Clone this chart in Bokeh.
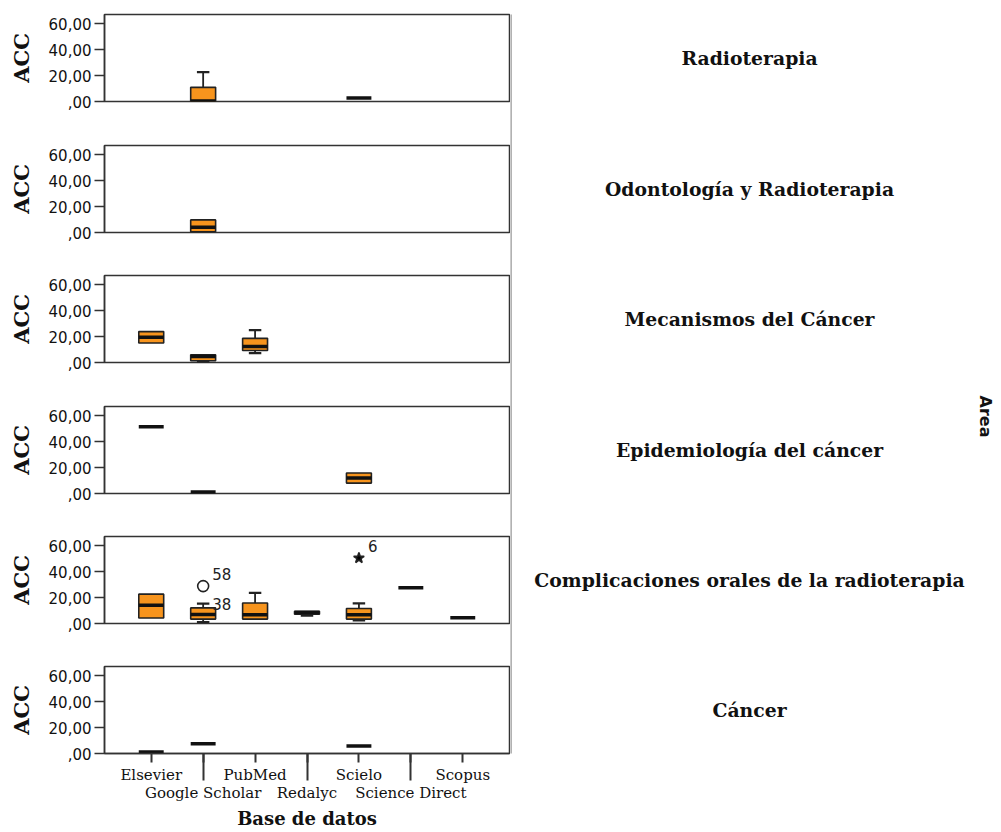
from bokeh.plotting import figure
from bokeh.layouts import column, row
from bokeh.models import Range1d, FixedTicker, ColumnDataSource
from bokeh.embed import file_html
from bokeh.resources import INLINE
from bokeh.core.properties import value
import math

databases = ["Elsevier", "Google Scholar", "PubMed", "Redalyc", "Scielo", "Science Direct", "Scopus"]
areas = ["Radioterapia", "Odontología y Radioterapia", "Mecanismos del Cáncer",
         "Epidemiología del cáncer", "Complicaciones orales de la radioterapia", "Cáncer"]

# (database, whisker_low, q1, median, q3, whisker_high)
radioterapia = [("Google Scholar", 0.0, 0.0, 0.4, 10.9, 22.6),
                ("Scielo", 2.6, 2.6, 2.6, 2.6, 2.6)]
odontologia_radioterapia = [("Google Scholar", 0.6, 0.6, 4.0, 9.7, 9.7)]
mecanismos_cancer = [("Elsevier", 15.0, 15.0, 19.5, 23.8, 23.8),
                     ("Google Scholar", 0.4, 1.3, 4.6, 6.0, 6.0),
                     ("PubMed", 7.2, 9.2, 12.3, 18.6, 25.0)]
epidemiologia_cancer = [("Elsevier", 51.4, 51.4, 51.4, 51.4, 51.4),
                        ("Google Scholar", 1.2, 1.2, 1.2, 1.2, 1.2),
                        ("Scielo", 8.0, 8.0, 11.9, 15.8, 15.8)]
complicaciones_orales = [("Elsevier", 4.2, 4.2, 14.0, 22.6, 22.6),
                         ("Google Scholar", 1.0, 3.4, 7.0, 12.0, 15.3),
                         ("PubMed", 3.4, 3.4, 6.8, 15.8, 23.6),
                         ("Redalyc", 6.0, 7.2, 8.4, 9.4, 9.4),
                         ("Scielo", 2.3, 3.4, 6.8, 11.5, 15.5),
                         ("Science Direct", 27.5, 27.5, 27.5, 27.5, 27.5),
                         ("Scopus", 4.4, 4.4, 4.4, 4.4, 4.4)]
cancer = [("Elsevier", 1.2, 1.2, 1.2, 1.2, 1.2),
          ("Google Scholar", 7.6, 7.6, 7.6, 7.6, 7.6),
          ("Scielo", 5.7, 5.7, 5.7, 5.7, 5.7)]

# outliers: (database, value, case label, marker)
complicaciones_outliers = [("Google Scholar", 28.8, "58", "circle"),
                           ("Scielo", 50.4, "6", "star")]
# case labels whose point lies inside the box: (database, value, case label)
complicaciones_case_labels = [("Google Scholar", 5.5, "38")]

panel_stats = [radioterapia, odontologia_radioterapia, mecanismos_cancer,
               epidemiologia_cancer, complicaciones_orales, cancer]
panel_outliers = [[], [], [], [], complicaciones_outliers, []]
panel_case_labels = [[], [], [], [], complicaciones_case_labels, []]

y_ticks = [0, 20, 40, 60]
y_tick_labels = [",00", "20,00", "40,00", "60,00"]

ORANGE = "#F7941D"
EDGE = "#222222"
BOX_W = 0.48
CAP_W = 0.24

tops = [14, 145, 275, 406, 536, 666]
FRAME_H = 87
TOTAL_H = 832
LEFT_W = 510
RIGHT_W = 1001 - LEFT_W
starts = [t - 14 for t in tops] + [TOTAL_H]

figs = []
for k, (stats, outs, cases) in enumerate(zip(panel_stats, panel_outliers, panel_case_labels)):
    last = (k == len(panel_stats) - 1)
    h = starts[k + 1] - starts[k]
    mbt = tops[k] - starts[k]
    mbb = h - mbt - FRAME_H
    p = figure(width=LEFT_W, height=h, output_backend="svg", toolbar_location=None,
               title=None, x_range=Range1d(-0.9, 6.9), y_range=Range1d(0, 67),
               x_axis_type="linear" if last else None,
               min_border_left=104, min_border_right=1,
               min_border_top=mbt, min_border_bottom=mbb)
    p.grid.visible = False
    p.outline_line_color = "#333333"
    p.outline_line_width = 1.5
    p.outline_line_alpha = 1.0
    p.background_fill_color = "white"
    p.border_fill_color = "white"

    ya = p.yaxis[0]
    ya.ticker = FixedTicker(ticks=y_ticks)
    ya.major_label_overrides = {t: l for t, l in zip(y_ticks, y_tick_labels)}
    ya.major_tick_out = 10
    ya.major_tick_in = 0
    ya.major_tick_line_width = 1.5
    ya.major_tick_line_color = "#333333"
    ya.axis_line_color = "#333333"
    ya.axis_line_width = 1.5
    ya.major_label_text_font = "DejaVu Sans"
    ya.major_label_text_font_size = "15px"
    ya.major_label_text_color = "#111111"
    ya.major_label_standoff = 3
    ya.axis_label = "ACC"
    ya.axis_label_text_font = "DejaVu Serif"
    ya.axis_label_text_font_style = "bold"
    ya.axis_label_text_font_size = "21px"
    ya.axis_label_text_color = "#111111"
    ya.axis_label_standoff = 12

    if last:
        xa = p.xaxis[0]
        xa.ticker = FixedTicker(ticks=list(range(len(databases))), minor_ticks=[1, 3, 5])
        xa.major_label_overrides = {i: ("\n" + n if i % 2 else n) for i, n in enumerate(databases)}
        xa.major_tick_out = 9
        xa.major_tick_in = 0
        xa.minor_tick_out = 27
        xa.minor_tick_in = 0
        xa.major_tick_line_width = 2
        xa.minor_tick_line_width = 2
        xa.major_tick_line_color = "#333333"
        xa.minor_tick_line_color = "#333333"
        xa.axis_line_color = "#333333"
        xa.axis_line_width = 1.5
        xa.major_label_text_font = "DejaVu Serif"
        xa.major_label_text_font_size = "15px"
        xa.major_label_text_line_height = 1.0
        xa.major_label_text_color = "#111111"
        xa.major_label_standoff = -15
        xa.axis_label = "Base de datos"
        xa.axis_label_text_font = "DejaVu Serif"
        xa.axis_label_text_font_style = "bold"
        xa.axis_label_text_font_size = "18px"
        xa.axis_label_text_color = "#111111"
        xa.axis_label_standoff = 3

    xs = [databases.index(s[0]) for s in stats]
    lo = [s[1] for s in stats]
    q1 = [s[2] for s in stats]
    med = [s[3] for s in stats]
    q3 = [s[4] for s in stats]
    hi = [s[5] for s in stats]

    box_idx = [i for i in range(len(stats)) if q3[i] > q1[i]]
    src = ColumnDataSource(dict(
        x=[xs[i] for i in box_idx], lo=[lo[i] for i in box_idx], q1=[q1[i] for i in box_idx],
        q3=[q3[i] for i in box_idx], hi=[hi[i] for i in box_idx]))
    # whiskers
    p.segment(x0="x", y0="q3", x1="x", y1="hi", source=src, line_color=EDGE, line_width=1.8)
    p.segment(x0="x", y0="lo", x1="x", y1="q1", source=src, line_color=EDGE, line_width=1.8)
    wsrc_hi = ColumnDataSource(dict(
        cl=[xs[i] - CAP_W / 2 for i in box_idx if hi[i] > q3[i]],
        cr=[xs[i] + CAP_W / 2 for i in box_idx if hi[i] > q3[i]],
        y=[hi[i] for i in box_idx if hi[i] > q3[i]]))
    wsrc_lo = ColumnDataSource(dict(
        cl=[xs[i] - CAP_W / 2 for i in box_idx if lo[i] < q1[i]],
        cr=[xs[i] + CAP_W / 2 for i in box_idx if lo[i] < q1[i]],
        y=[lo[i] for i in box_idx if lo[i] < q1[i]]))
    p.segment(x0="cl", y0="y", x1="cr", y1="y", source=wsrc_hi, line_color=EDGE, line_width=2.2)
    p.segment(x0="cl", y0="y", x1="cr", y1="y", source=wsrc_lo, line_color=EDGE, line_width=2.2)
    # boxes
    p.vbar(x="x", width=BOX_W, bottom="q1", top="q3", source=src,
           fill_color=ORANGE, line_color=EDGE, line_width=1.6)
    # medians (and single-value groups)
    msrc = ColumnDataSource(dict(l=[x - BOX_W / 2 for x in xs], r=[x + BOX_W / 2 for x in xs], y=med))
    p.segment(x0="l", y0="y", x1="r", y1="y", source=msrc, line_color="#111111", line_width=3.5)

    # outlier markers and case labels
    if outs:
        osrc = ColumnDataSource(dict(x=[databases.index(o[0]) for o in outs],
                                     y=[o[1] for o in outs],
                                     mk=[o[3] for o in outs],
                                     fc=["white" if o[3] == "circle" else "black" for o in outs]))
        p.scatter("x", "y", source=osrc, marker="mk", size=11,
                  fill_color="fc", line_color="#222222", line_width=1.6)
    labs = [(o[0], o[1], o[2]) for o in outs] + list(cases)
    if labs:
        tsrc = ColumnDataSource(dict(x=[databases.index(c[0]) for c in labs],
                                     y=[c[1] for c in labs],
                                     lab=[c[2] for c in labs]))
        p.text("x", "y", text="lab", source=tsrc, x_offset=9, y_offset=-6,
               text_font=value("DejaVu Sans"), text_font_size="15px",
               text_color="#222222", text_baseline="bottom", text_align="left")
    figs.append(p)

# right side: area labels
rp = figure(width=RIGHT_W, height=TOTAL_H, output_backend="svg", toolbar_location=None,
            title=None, x_range=Range1d(0, RIGHT_W), y_range=Range1d(0, TOTAL_H),
            x_axis_type=None, y_axis_type=None,
            min_border_left=0, min_border_right=0, min_border_top=0, min_border_bottom=0)
rp.grid.visible = False
rp.outline_line_color = None
rp.background_fill_color = "white"
rp.border_fill_color = "white"
# connecting frame line between panels
rp.segment(x0=[0], y0=[TOTAL_H - tops[0]], x1=[0], y1=[TOTAL_H - (tops[-1] + FRAME_H)],
           line_color="#999999", line_width=2.5)
lsrc = ColumnDataSource(dict(x=[749 - LEFT_W] * len(areas),
                             y=[TOTAL_H - (t + FRAME_H / 2) for t in tops],
                             text=areas))
rp.text("x", "y", text="text", source=lsrc, text_font=value("DejaVu Serif"),
        text_font_style="bold", text_font_size="18.8px", text_color="#111111",
        text_align="center", text_baseline="middle")
rp.text(x=[985 - LEFT_W], y=[TOTAL_H - 416], text=["Area"], angle=-math.pi / 2,
        text_font=value("DejaVu Sans"), text_font_style="bold", text_font_size="16px",
        text_color="#111111", text_align="center", text_baseline="middle")

layout = row(column(*figs), rp)
open("out.html", "w").write(file_html(layout, INLINE))
